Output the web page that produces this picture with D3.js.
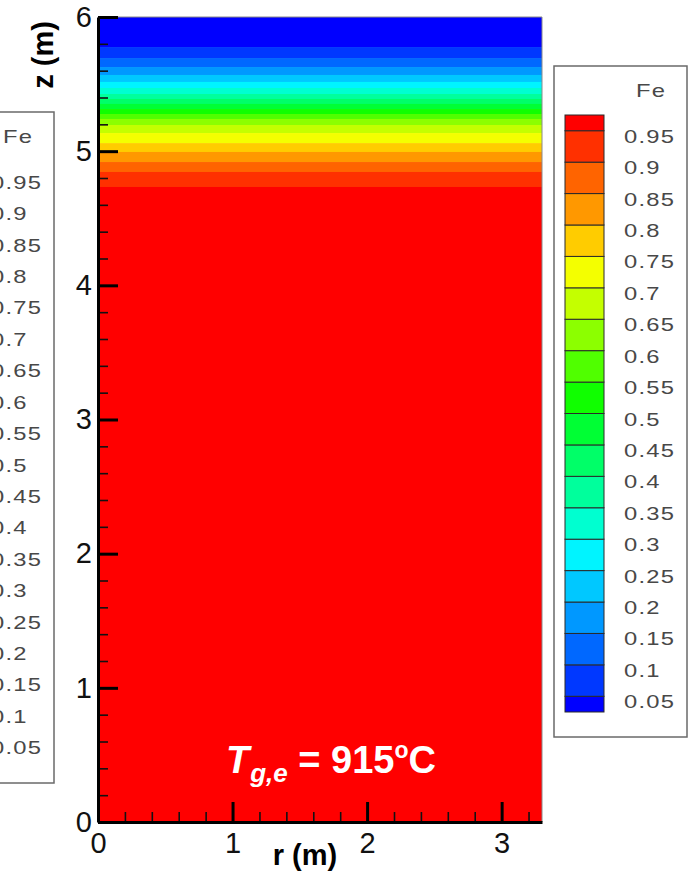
<!DOCTYPE html>
<html>
<head>
<meta charset="utf-8">
<script src="https://cdn.jsdelivr.net/npm/d3@7"></script>
<style>
  html, body { margin: 0; padding: 0; background: #fff; }
  svg { display: block; font-family: "Liberation Sans", Arial, Helvetica, sans-serif; }
</style>
</head>
<body>
<svg id="chart" width="698" height="875"></svg>
<script>
// ---- Data ----
const levels = [0.05, 0.1, 0.15, 0.2, 0.25, 0.3, 0.35, 0.4, 0.45, 0.5, 0.55, 0.6, 0.65, 0.7, 0.75, 0.8, 0.85, 0.9, 0.95];
const levelLabels = ["0.05", "0.1", "0.15", "0.2", "0.25", "0.3", "0.35", "0.4", "0.45", "0.5", "0.55", "0.6", "0.65", "0.7", "0.75", "0.8", "0.85", "0.9", "0.95"];
// height z (m) at which Fe crosses each contour level (profile is uniform in r)
const levelZ = [5.776, 5.694, 5.627, 5.568, 5.516, 5.471, 5.426, 5.389, 5.352, 5.314, 5.277, 5.240, 5.195, 5.135, 5.060, 4.994, 4.919, 4.845, 4.733];
const bandColors = ["#0000ff", "#0038ff", "#0068ff", "#0098ff", "#00c8ff", "#00f4ff", "#00ffd0", "#00ff9c", "#00ff68", "#00ff34",
                    "#10ff00", "#50ff00", "#8cff00", "#c4ff00", "#f4ff00", "#ffcc00", "#ff9800", "#ff6400", "#ff3000", "#ff0000"];
const rDomain = [0, 3.3];
const zDomain = [0, 6];
const xTicks = [0, 1, 2, 3];
const yTicks = [0, 1, 2, 3, 4, 5, 6];
const legendTitle = "Fe";

// ---- Setup ----
const svg = d3.select("#chart");
const x = d3.scaleLinear().domain(rDomain).range([98, 542]);
const y = d3.scaleLinear().domain(zDomain).range([822, 17]);

// bands
const bands = bandColors.map((c, k) => ({
  top: k === 0 ? zDomain[1] : levelZ[k - 1],
  bottom: k === bandColors.length - 1 ? zDomain[0] : levelZ[k],
  color: c
}));
svg.append("g").selectAll("rect").data(bands).join("rect")
  .attr("x", x(rDomain[0]))
  .attr("width", x(rDomain[1]) - x(rDomain[0]))
  .attr("y", d => y(d.top))
  .attr("height", d => y(d.bottom) - y(d.top) + 0.5)
  .attr("fill", d => d.color);

// thin frame top/right
svg.append("path")
  .attr("d", `M${x(0)},${y(6)}H${x(3.3)}V${y(0)}`)
  .attr("fill", "none").attr("stroke", "#8a8a8a").attr("stroke-width", 1);

// minor ticks
const xMinor = d3.range(0, 17).map(i => +(i * 0.2).toFixed(1)).filter(v => !xTicks.includes(v));
const yMinor = d3.range(0, 31).map(i => +(i * 0.2).toFixed(1)).filter(v => !yTicks.includes(v));

const gxMinor = svg.append("g").attr("transform", `translate(0,${y(0)})`)
  .call(d3.axisBottom(x).tickValues(xMinor).tickSize(-10).tickFormat(""));
const gyMinor = svg.append("g").attr("transform", `translate(${x(0)},0)`)
  .call(d3.axisLeft(y).tickValues(yMinor).tickSize(-10).tickFormat(""));
[gxMinor, gyMinor].forEach(g => {
  g.select(".domain").remove();
  g.selectAll(".tick line").attr("stroke", "#111").attr("stroke-width", 1.6);
});

// major axes
const gx = svg.append("g").attr("transform", `translate(0,${y(0)})`)
  .call(d3.axisBottom(x).tickValues(xTicks).tickSizeInner(-20).tickSizeOuter(0).tickPadding(10).tickFormat(d3.format("d")));
const gy = svg.append("g").attr("transform", `translate(${x(0)},0)`)
  .call(d3.axisLeft(y).tickValues(yTicks).tickSizeInner(-20).tickSizeOuter(0).tickPadding(6).tickFormat(d3.format("d")));
[gx, gy].forEach(g => {
  g.select(".domain").attr("stroke", "#000").attr("stroke-width", 3);
  g.selectAll(".tick line").attr("stroke", "#000").attr("stroke-width", 3);
  g.selectAll(".tick text").attr("font-size", 29).attr("fill", "#111")
    .attr("font-family", "'Liberation Sans', Arial, sans-serif");
});

// axis titles
svg.append("text").attr("x", 305).attr("y", 865).attr("text-anchor", "middle")
  .attr("font-size", 29).attr("font-weight", "bold").attr("fill", "#000").text("r (m)");
svg.append("text").attr("transform", "translate(53,55) rotate(-90)").attr("text-anchor", "middle")
  .attr("font-size", 29).attr("font-weight", "bold").attr("fill", "#000").text("z (m)");

// annotation
const ann = svg.append("text").attr("x", 226).attr("y", 773).attr("fill", "#fff").attr("font-weight", "bold");
ann.append("tspan").attr("font-size", 38).attr("font-style", "italic").text("T");
ann.append("tspan").attr("font-size", 26).attr("font-style", "italic").attr("dy", 9).attr("dx", 1).text("g,e");
ann.append("tspan").attr("font-size", 38).attr("dy", -9).text(" = 915");
ann.append("tspan").attr("font-size", 23).attr("dy", -15).text("o");
ann.append("tspan").attr("font-size", 38).attr("dy", 15).text("C");

// ---- Legends ----
const ly = d3.scaleLinear().domain([0, 1]).range([727.7, 99.3]);
const legendBands = bandColors.map((c, k) => ({
  lo: k === 0 ? 0.025 : levels[k - 1],
  hi: k === bandColors.length - 1 ? 0.975 : levels[k],
  color: c
}));

function drawLegend(dx, dy) {
  const g = svg.append("g").attr("transform", `translate(${dx},${dy})`);
  g.append("rect").attr("x", 554).attr("y", 66).attr("width", 133).attr("height", 671)
    .attr("fill", "#fff").attr("stroke", "#6a6a6a").attr("stroke-width", 1.5);
  g.append("text").attr("transform", `translate(636,97) scale(1.25,1)`)
    .attr("font-size", 19).attr("letter-spacing", 1).attr("fill", "#484848").text(legendTitle);
  g.append("g").selectAll("rect").data(legendBands).join("rect")
    .attr("x", 565).attr("width", 39)
    .attr("y", d => ly(d.hi)).attr("height", d => ly(d.lo) - ly(d.hi))
    .attr("fill", d => d.color).attr("stroke", "#2a2a2a").attr("stroke-width", 1);
  g.append("g").selectAll("text").data(levels).join("text")
    .attr("transform", (d) => `translate(624,${ly(d) + 12}) scale(1.25,1)`)
    .attr("font-size", 19).attr("letter-spacing", 1).attr("fill", "#484848")
    .text((d, i) => levelLabels[i]);
}
drawLegend(0, 0);
drawLegend(-633, 46);
</script>
</body>
</html>
